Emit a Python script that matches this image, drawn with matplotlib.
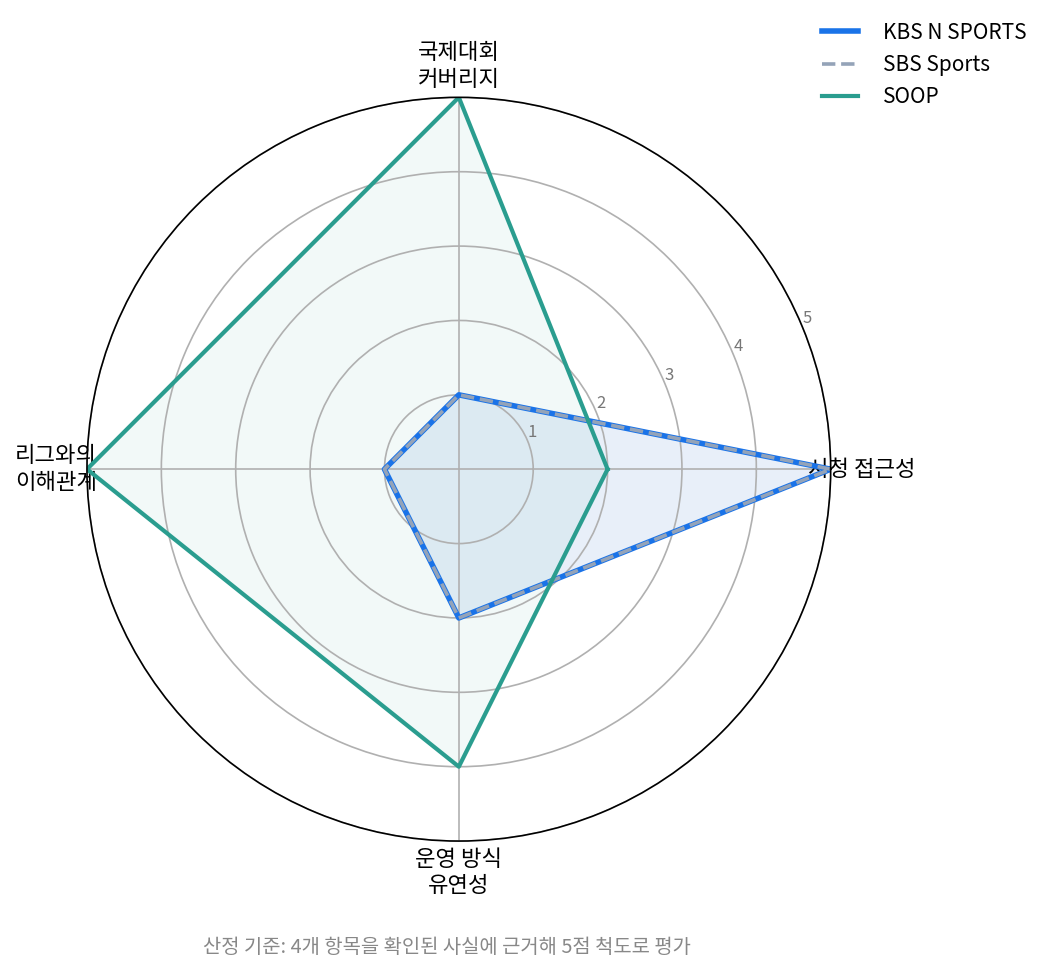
import numpy as np
import matplotlib.pyplot as plt

plt.rcParams['font.family'] = ['Noto Sans CJK KR', 'DejaVu Sans']

categories = ['시청 접근성', '국제대회\n커버리지', '리그와의\n이해관계', '운영 방식\n유연성']
kbs = [5, 1, 1, 2]
sbs = [5, 1, 1, 2]
soop = [2, 5, 5, 4]
caption = '산정 기준: 4개 항목을 확인된 사실에 근거해 5점 척도로 평가'

angles = np.linspace(0, 2 * np.pi, len(categories), endpoint=False).tolist()
angles_c = angles + angles[:1]


def close(v):
    return list(v) + [v[0]]


fig = plt.figure(figsize=(10.49, 9.77), dpi=100)
ax = fig.add_axes([0.0829, 0.139, 0.709, 0.7615], projection='polar')

ax.plot(angles_c, close(kbs), color='#1a73e8', linewidth=4, label='KBS N SPORTS')
ax.fill(angles_c, close(kbs), color='#1a73e8', alpha=0.08)
ax.plot(angles_c, close(sbs), color='#94a3b8', linewidth=2.6, linestyle='--',
        label='SBS Sports')
ax.fill(angles_c, close(sbs), color='#94a3b8', alpha=0.05)
ax.plot(angles_c, close(soop), color='#2a9d8f', linewidth=3, label='SOOP')
ax.fill(angles_c, close(soop), color='#2a9d8f', alpha=0.06)

ax.set_ylim(0, 5)
ax.set_yticks([1, 2, 3, 4, 5])
ax.set_yticklabels(['1', '2', '3', '4', '5'], fontsize=12, color='#777777')
ax.set_rlabel_position(22.5)
ax.set_xticks(angles)
ax.set_xticklabels(categories, fontsize=16)
ax.tick_params(axis='x', pad=12)
ax.grid(color='#b0b0b0', linewidth=1.2)
ax.spines['polar'].set_linewidth(1.2)

ax.legend(loc='upper right', bbox_to_anchor=(1.289, 1.127), frameon=False, fontsize=15,
          handlelength=1.75, handletextpad=1.2, labelspacing=0.5)

fig.text(0.426, 0.0297, caption, ha='center', va='center', fontsize=14.3, color='#888888')

fig.savefig('out.png', dpi=100)
